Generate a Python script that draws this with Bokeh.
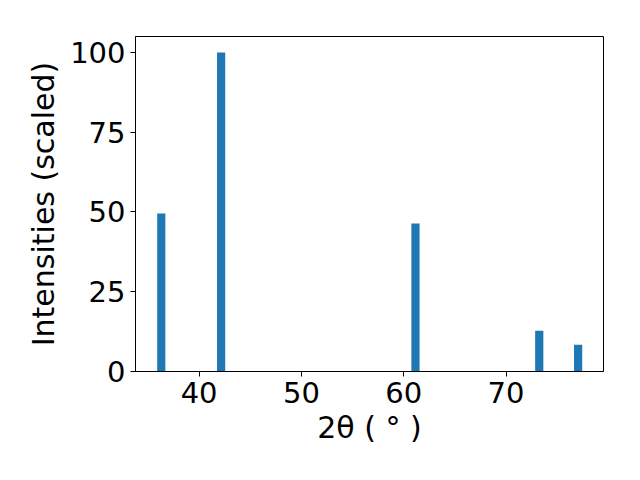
from bokeh.plotting import figure
from bokeh.models import Range1d, FixedTicker
from bokeh.embed import file_html
from bokeh.resources import INLINE

two_theta = [36.3, 42.15, 61.15, 73.25, 77.05]
intensity = [49.5, 100.0, 46.4, 12.8, 8.4]
x_ticks = [40, 50, 60, 70]
y_ticks = [0, 25, 50, 75, 100]

p = figure(width=624, height=464, output_backend="svg", toolbar_location=None,
           x_range=Range1d(33.78, 79.53), y_range=Range1d(0, 105),
           min_border_left=135, min_border_right=21, min_border_top=36, min_border_bottom=93)

p.vbar(x=two_theta, top=intensity, width=0.8, bottom=0, color="#1f77b4", line_color=None)

p.xgrid.visible = False
p.ygrid.visible = False
p.outline_line_color = "black"
p.outline_line_width = 1
p.background_fill_color = "white"
p.border_fill_color = "white"

font = "DejaVu Sans"
for ax in (p.xaxis[0], p.yaxis[0]):
    ax.major_label_text_font = font
    ax.major_label_text_font_size = "29px"
    ax.major_label_text_color = "black"
    ax.axis_label_text_font = font
    ax.axis_label_text_font_size = "30px"
    ax.axis_label_text_font_style = "normal"
    ax.axis_label_text_color = "black"
    ax.minor_tick_line_color = None
    ax.major_tick_in = 0
    ax.major_tick_out = 5
    ax.major_tick_line_color = "black"
    ax.axis_line_color = "black"
    ax.major_label_standoff = 5

p.xaxis.ticker = FixedTicker(ticks=x_ticks)
p.yaxis.ticker = FixedTicker(ticks=y_ticks)
p.xaxis.axis_label = "2θ ( ° )"
p.yaxis.axis_label = "Intensities (scaled)"
p.xaxis.axis_label_standoff = 4
p.yaxis.axis_label_standoff = 6

open("out.html", "w").write(file_html(p, INLINE))
